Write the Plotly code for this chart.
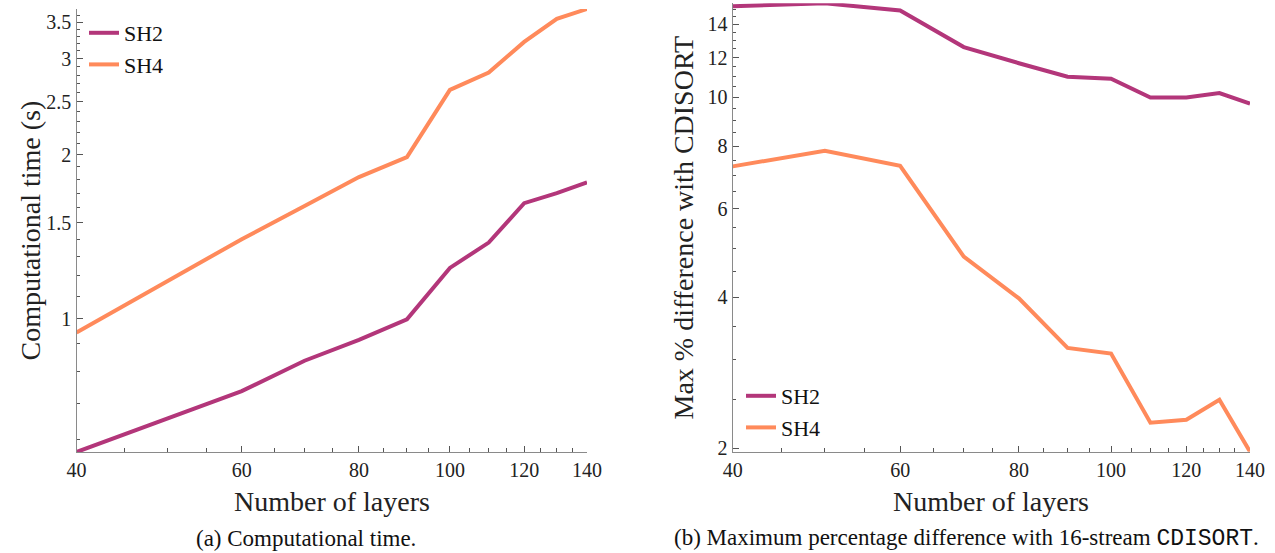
import numpy as np
import plotly.graph_objects as go

# ---------------- data ----------------
layers = [40, 50, 60, 70, 80, 90, 100, 110, 120, 130, 140]
time_sh2 = [0.570, 0.655, 0.737, 0.838, 0.915, 0.998, 1.24, 1.38, 1.63, 1.70, 1.78]
time_sh4 = [0.944, 1.17, 1.40, 1.61, 1.82, 1.98, 2.63, 2.83, 3.22, 3.55, 3.70]
diff_sh2 = [15.2, 15.4, 14.9, 12.6, 11.7, 11.0, 10.9, 10.0, 10.0, 10.2, 9.72]
diff_sh4 = [7.29, 7.83, 7.31, 4.82, 3.98, 3.17, 3.09, 2.25, 2.28, 2.50, 1.97]

x_ticks = [40, 60, 80, 100, 120, 140]
x_minor = [45, 50, 55, 65, 70, 75, 85, 90, 95, 105, 110, 115, 125, 130, 135]
time_ticks = [1, 1.5, 2, 2.5, 3, 3.5]
time_tick_text = ["1", "1.5", "2", "2.5", "3", "3.5"]
time_minor = [0.6, 0.7, 0.8, 0.9, 1.1, 1.2, 1.3, 1.4, 1.6, 1.7, 1.8, 1.9,
              2.1, 2.2, 2.3, 2.4, 2.6, 2.7, 2.8, 2.9, 3.1, 3.2, 3.3, 3.4, 3.6, 3.7]
diff_ticks = [2, 4, 6, 8, 10, 12, 14]
diff_minor = [2.5, 3, 3.5, 4.5, 5, 5.5, 6.5, 7, 7.5, 8.5, 9, 9.5, 10.5, 11,
              11.5, 12.5, 13, 13.5, 14.5, 15]

series_names = ["SH2", "SH4"]
colors = ["#B3367A", "#FF8A5B"]

FONT = "Liberation Serif"
W, H = 1275, 553

def px(x):
    return x / W

def py(y):
    return (H - y) / H

fig = go.Figure()
for name, vals, col in zip(series_names, [time_sh2, time_sh4], colors):
    fig.add_trace(go.Scatter(x=layers, y=vals, mode="lines", name=name,
                             line=dict(color=col, width=4),
                             xaxis="x", yaxis="y", legend="legend"))
for name, vals, col in zip(series_names, [diff_sh2, diff_sh4], colors):
    fig.add_trace(go.Scatter(x=layers, y=vals, mode="lines", name=name,
                             line=dict(color=col, width=4),
                             xaxis="x2", yaxis="y2", legend="legend2"))

axis_common = dict(type="log", showgrid=False, zeroline=False, showline=True,
                   automargin=False,
                   linecolor="#8a8a8a", linewidth=1.3, ticks="inside",
                   ticklen=6, tickwidth=1, tickcolor="#555555",
                   tickfont=dict(family=FONT, size=20, color="#222222"),
                   tickmode="array")

minor_common = dict(ticks="inside", ticklen=3.5, tickwidth=1, tickcolor="#555555",
                    tickmode="array", showgrid=False)

t_all = time_sh2 + time_sh4
d_all = diff_sh2 + diff_sh4

legend_font = dict(family=FONT, size=22, color="#111111")

fig.update_layout(
    width=W, height=H, autosize=False,
    font=dict(family=FONT, color="#222222"),
    margin=dict(l=0, r=0, t=0, b=0, autoexpand=False),
    paper_bgcolor="white", plot_bgcolor="white",
    xaxis=dict(axis_common, domain=[px(76.5), px(587)], anchor="y",
               range=[np.log10(min(layers)), np.log10(max(layers))],
               tickvals=x_ticks, ticktext=[str(v) for v in x_ticks],
               minor=dict(minor_common, tickvals=x_minor)),
    yaxis=dict(axis_common, domain=[py(452), py(9)], anchor="x",
               range=[np.log10(min(t_all)), np.log10(max(t_all))],
               tickvals=time_ticks, ticktext=time_tick_text,
               minor=dict(minor_common, tickvals=time_minor)),
    xaxis2=dict(axis_common, domain=[px(732.7), px(1250)], anchor="y2",
                range=[np.log10(min(layers)), np.log10(max(layers))],
                tickvals=x_ticks, ticktext=[str(v) for v in x_ticks],
                minor=dict(minor_common, tickvals=x_minor)),
    yaxis2=dict(axis_common, domain=[py(451.7), py(3.3)], anchor="x2",
                range=[np.log10(min(d_all)), np.log10(max(d_all))],
                tickvals=diff_ticks, ticktext=[str(v) for v in diff_ticks],
                minor=dict(minor_common, tickvals=diff_minor)),
    legend=dict(x=px(84), y=py(12), xanchor="left", yanchor="top",
                bgcolor="rgba(0,0,0,0)", borderwidth=0, itemwidth=30,
                font=legend_font, tracegroupgap=0),
    legend2=dict(x=px(741), y=py(375), xanchor="left", yanchor="top",
                 bgcolor="rgba(0,0,0,0)", borderwidth=0, itemwidth=30,
                 font=legend_font, tracegroupgap=0),
    showlegend=True,
)

ann_font_title = dict(family=FONT, size=28, color="#222222")
ann_font_cap = dict(family=FONT, size=23, color="#111111")
annotations = [
    dict(text="Number of layers", x=px(332), y=py(501), font=ann_font_title),
    dict(text="Number of layers", x=px(991), y=py(501), font=ann_font_title),
    dict(text="Computational time (s)", x=px(30), y=py(230.5), textangle=-90,
         font=ann_font_title),
    dict(text="Max % difference with CDISORT", x=px(683), y=py(227.5),
         textangle=-90, font=ann_font_title),
    dict(text="(a) Computational time.", x=px(306), y=py(538), font=ann_font_cap),
    dict(text="(b) Maximum percentage difference with 16-stream "
              "<span style='font-family:Liberation Mono'>CDISORT</span>.",
         x=px(966), y=py(538), font=ann_font_cap),
]
for a in annotations:
    a.update(xref="paper", yref="paper", xanchor="center", yanchor="middle",
             showarrow=False)
fig.update_layout(annotations=annotations)

fig.write_html("out.html",
               config={"displayModeBar": False},
               post_script="document.body.style.margin='0px';"
                           "document.documentElement.style.overflow='hidden';")
